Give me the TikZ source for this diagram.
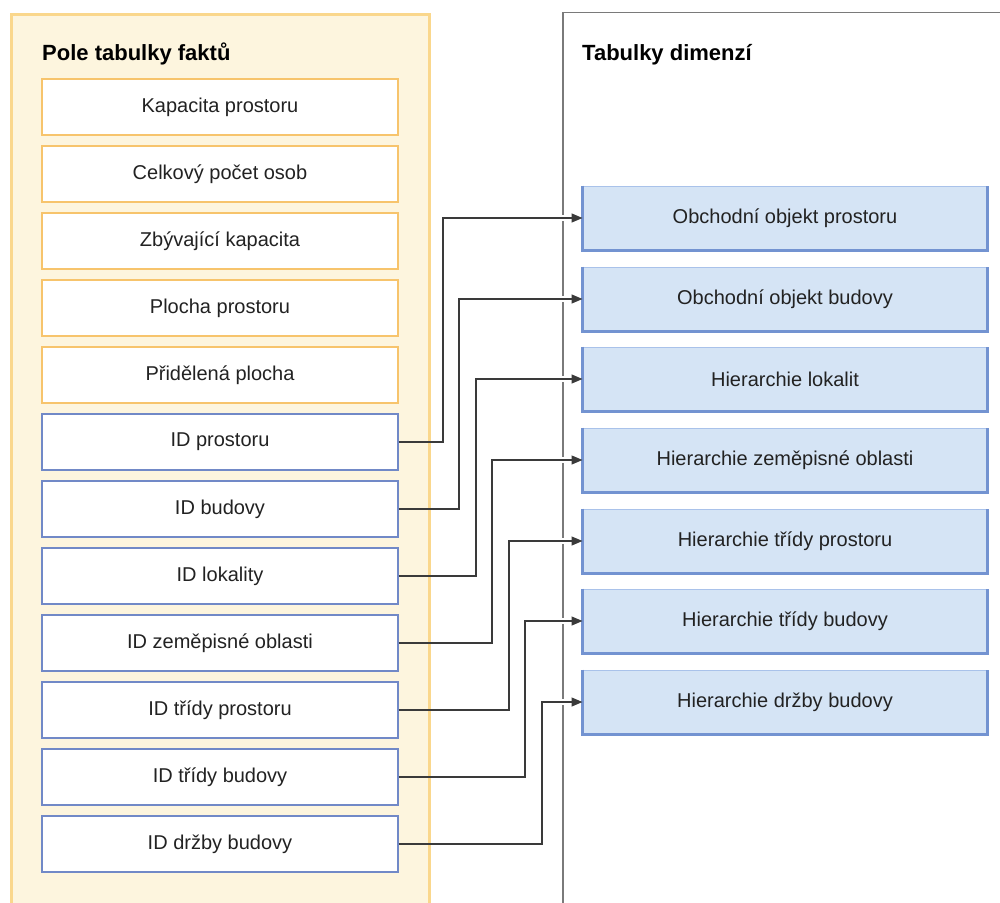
\documentclass[tikz,border=0pt]{standalone}
\usepackage{fontspec}
\setmainfont{Liberation Sans}
\usetikzlibrary{arrows.meta}

\definecolor{panelfill}{HTML}{FDF5DE}
\definecolor{panelline}{HTML}{FAD78C}
\definecolor{factline}{HTML}{F7C46C}
\definecolor{keyline}{HTML}{7189C7}
\definecolor{dimfill}{HTML}{D5E4F5}
\definecolor{dimlight}{HTML}{A9C2EA}
\definecolor{dimdark}{HTML}{7393D1}
\definecolor{framegray}{HTML}{7A7A7A}
\definecolor{ink}{HTML}{222222}
\definecolor{wire}{HTML}{3A3A3A}

\begin{document}
\begin{tikzpicture}[x=1pt,y=-1pt,
  field/.style={draw=factline, fill=white, line width=1.3pt,
    minimum width=356pt, minimum height=56pt, inner sep=0pt,
    text=ink, font=\fontsize{20}{24}\selectfont},
  keyfield/.style={field, draw=keyline},
  dimbox/.style={draw=dimlight, fill=dimfill, line width=1pt,
    minimum width=404pt, minimum height=64pt, inner sep=0pt,
    text=ink, font=\fontsize{20}{24}\selectfont},
  dimedge/.style={draw=dimdark, line width=2.2pt},
  heading/.style={anchor=base west, inner sep=0pt, text=black,
    font=\bfseries\fontsize{22}{26}\selectfont},
  halo/.style={draw=white, line width=6pt},
  link/.style={draw=wire, line width=1.3pt,
    -{Triangle[length=11pt,width=9pt]}}]

\useasboundingbox (0,0) rectangle (1000,902);

% fact table panel
\draw[fill=panelfill, draw=panelline, line width=3pt] (11.5,14.5) rectangle (429,930);
% dimension tables frame
\draw[draw=framegray, line width=1.7pt] (1020,12.5) -- (563,12.5) -- (563,930);

\node[heading] (facttitle) at (42,60) {Pole tabulky faktů};
\node[heading] (dimtitle) at (582,60) {Tabulky dimenzí};

% fact table fields
\node[field] (f1) at (220,107) {Kapacita prostoru};
\node[field] (f2) at (220,174) {Celkový počet osob};
\node[field] (f3) at (220,241) {Zbývající kapacita};
\node[field] (f4) at (220,308) {Plocha prostoru};
\node[field] (f5) at (220,375) {Přidělená plocha};
\node[keyfield] (k1) at (220,442) {ID prostoru};
\node[keyfield] (k2) at (220,509) {ID budovy};
\node[keyfield] (k3) at (220,576) {ID lokality};
\node[keyfield] (k4) at (220,643) {ID zeměpisné oblasti};
\node[keyfield] (k5) at (220,710) {ID třídy prostoru};
\node[keyfield] (k6) at (220,777) {ID třídy budovy};
\node[keyfield] (k7) at (220,844) {ID držby budovy};

% dimension tables
\node[dimbox] (d1) at (785,218) {Obchodní objekt prostoru};
\node[dimbox] (d2) at (785,299) {Obchodní objekt budovy};
\node[dimbox] (d3) at (785,379) {Hierarchie lokalit};
\node[dimbox] (d4) at (785,460) {Hierarchie zeměpisné oblasti};
\node[dimbox] (d5) at (785,541) {Hierarchie třídy prostoru};
\node[dimbox] (d6) at (785,621) {Hierarchie třídy budovy};
\node[dimbox] (d7) at (785,702) {Hierarchie držby budovy};

% darker bevel on left, bottom and right edges
\foreach \d in {d1,d2,d3,d4,d5,d6,d7}
  \draw[dimedge] (\d.north west) -- (\d.south west) -- (\d.south east) -- (\d.north east);

% key field -> dimension table connectors
\foreach \s/\t/\x in {k1/d1/443, k2/d2/459, k3/d3/476, k4/d4/492,
                      k5/d5/509, k6/d6/525, k7/d7/542} {
  \coordinate (bend\s) at (\x,0);
  \draw[halo] (bend\s |- \t.west) -- ([xshift=-12pt]\t.west);
  \draw[link] (\s.east) -| (bend\s |- \t.west) -- (\t.west);
}
\end{tikzpicture}
\end{document}
